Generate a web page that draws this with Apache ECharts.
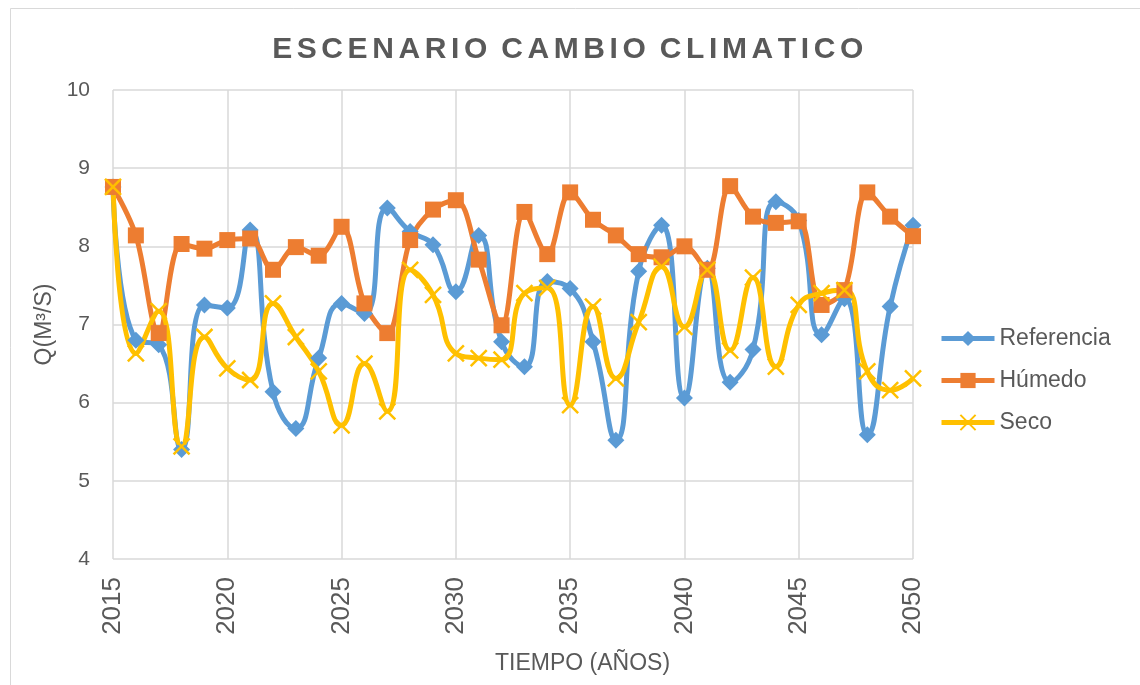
<!DOCTYPE html>
<html>
<head>
<meta charset="utf-8">
<title>Escenario cambio climatico</title>
<script src="https://cdn.jsdelivr.net/npm/echarts@6/dist/echarts.min.js"></script>
<style>
  html, body { margin: 0; padding: 0; background: #ffffff; }
  #chart { width: 1140px; height: 685px; }
</style>
</head>
<body>
<div id="chart"></div>
<script>
// Caudal anual 2015-2050 bajo tres escenarios
const years = [2015, 2016, 2017, 2018, 2019, 2020, 2021, 2022, 2023, 2024, 2025, 2026,
               2027, 2028, 2029, 2030, 2031, 2032, 2033, 2034, 2035, 2036, 2037, 2038,
               2039, 2040, 2041, 2042, 2043, 2044, 2045, 2046, 2047, 2048, 2049, 2050];

const referencia = [8.76, 6.80, 6.74, 5.40, 7.25, 7.21, 8.21, 6.14, 5.67, 6.57, 7.27, 7.14,
                    8.49, 8.19, 8.02, 7.42, 8.14, 6.78, 6.46, 7.55, 7.46, 6.78, 5.52, 7.68,
                    8.27, 6.06, 7.72, 6.26, 6.68, 8.57, 8.33, 6.87, 7.33, 5.59, 7.23, 8.27];

const humedo = [8.76, 8.14, 6.89, 8.03, 7.97, 8.08, 8.10, 7.70, 7.99, 7.88, 8.25, 7.27,
                6.89, 8.08, 8.47, 8.59, 7.83, 6.99, 8.44, 7.90, 8.69, 8.34, 8.14, 7.90,
                7.86, 8.00, 7.70, 8.77, 8.38, 8.30, 8.32, 7.25, 7.44, 8.69, 8.38, 8.13];

const seco = [8.76, 6.63, 7.17, 5.44, 6.84, 6.44, 6.29, 7.27, 6.84, 6.40, 5.71, 6.50,
              5.89, 7.70, 7.38, 6.63, 6.57, 6.55, 7.40, 7.47, 5.97, 7.23, 6.31, 7.03,
              7.74, 6.97, 7.70, 6.67, 7.60, 6.46, 7.25, 7.40, 7.44, 6.40, 6.16, 6.31];

const seriesNames = ['Referencia', 'Húmedo', 'Seco'];
const titleText = 'ESCENARIO CAMBIO CLIMATICO';
const xName = 'TIEMPO (AÑOS)';
const yName = 'Q(M³/S)';

const C_REF = '#5B9BD5';
const C_HUM = '#ED7D31';
const C_SEC = '#FFC000';
const TXT = '#595959';
const GRID = '#D9D9D9';
const FONT = 'Arial, "Liberation Sans", sans-serif';

// spaced capitals for the title: every letter is its own rich token with right padding
function spaced(str) {
  return str.split('').map(ch => ch === ' ' ? '{w| }' : '{l|' + ch + '}').join('');
}

const pairs = arr => years.map((y, i) => [y, arr[i]]);

const crossPath = 'path://M0,0L10,10M10,0L0,10';

const chart = echarts.init(document.getElementById('chart'), null, { renderer: 'canvas' });

chart.setOption({
  backgroundColor: '#ffffff',
  animation: false,
  textStyle: { fontFamily: FONT },
  title: {
    text: spaced(titleText),
    left: 'center',
    top: 30,
    textStyle: {
      rich: {
        l: { fontFamily: FONT, fontSize: 30, fontWeight: 'bold', color: TXT, padding: [0, 4.6, 0, 0] },
        w: { fontFamily: FONT, fontSize: 30, fontWeight: 'bold', color: TXT, padding: [0, 1, 0, 0] }
      }
    }
  },
  graphic: [
    {
      type: 'rect',
      silent: true,
      shape: { x: 10.5, y: 8.5, width: 1300, height: 800 },
      style: { fill: 'none', stroke: GRID, lineWidth: 1 }
    },
    {
      type: 'text',
      left: 495,
      top: 652,
      style: { text: xName, fontFamily: FONT, fontSize: 23, fill: TXT }
    }
  ],
  legend: {
    orient: 'vertical',
    left: 934,
    top: 322,
    itemWidth: 53,
    itemHeight: 19,
    itemGap: 19,
    data: seriesNames,
    lineStyle: { width: 5 },
    textStyle: { fontFamily: FONT, fontSize: 23, color: TXT }
  },
  grid: {
    left: 113,
    right: 227,
    top: 90,
    bottom: 126,
    containLabel: false,
    outerBoundsMode: 'none'
  },
  xAxis: {
    type: 'value',
    min: 2015,
    max: 2050,
    interval: 5,
    axisLine: { show: false },
    axisTick: { show: false },
    splitLine: { show: true, lineStyle: { color: GRID, width: 1.5 } },
    axisLabel: {
      rotate: 90,
      margin: 18,
      fontFamily: FONT,
      fontSize: 26,
      color: TXT,
      formatter: v => String(v)
    }
  },
  yAxis: {
    type: 'value',
    min: 4,
    max: 10,
    interval: 1,
    name: yName,
    nameLocation: 'middle',
    nameRotate: 90,
    nameGap: 54,
    nameTextStyle: { fontFamily: FONT, fontSize: 23, color: TXT },
    axisLine: { show: false },
    axisTick: { show: false },
    splitLine: { show: true, lineStyle: { color: GRID, width: 1.5 } },
    axisLabel: { margin: 23, fontFamily: FONT, fontSize: 21, color: TXT }
  },
  series: [
    {
      name: seriesNames[0],
      type: 'line',
      data: pairs(referencia),
      smooth: 0.5,
      symbol: 'diamond',
      symbolSize: 17,
      lineStyle: { color: C_REF, width: 5 },
      itemStyle: { color: C_REF }
    },
    {
      name: seriesNames[1],
      type: 'line',
      data: pairs(humedo),
      smooth: 0.35,
      symbol: 'rect',
      symbolSize: 16,
      lineStyle: { color: C_HUM, width: 5 },
      itemStyle: { color: C_HUM }
    },
    {
      name: seriesNames[2],
      type: 'line',
      data: pairs(seco),
      smooth: 0.5,
      symbol: crossPath,
      symbolSize: 16,
      lineStyle: { color: C_SEC, width: 5 },
      itemStyle: { color: C_SEC, borderColor: C_SEC, borderWidth: 2.5 }
    }
  ]
});
</script>
</body>
</html>
